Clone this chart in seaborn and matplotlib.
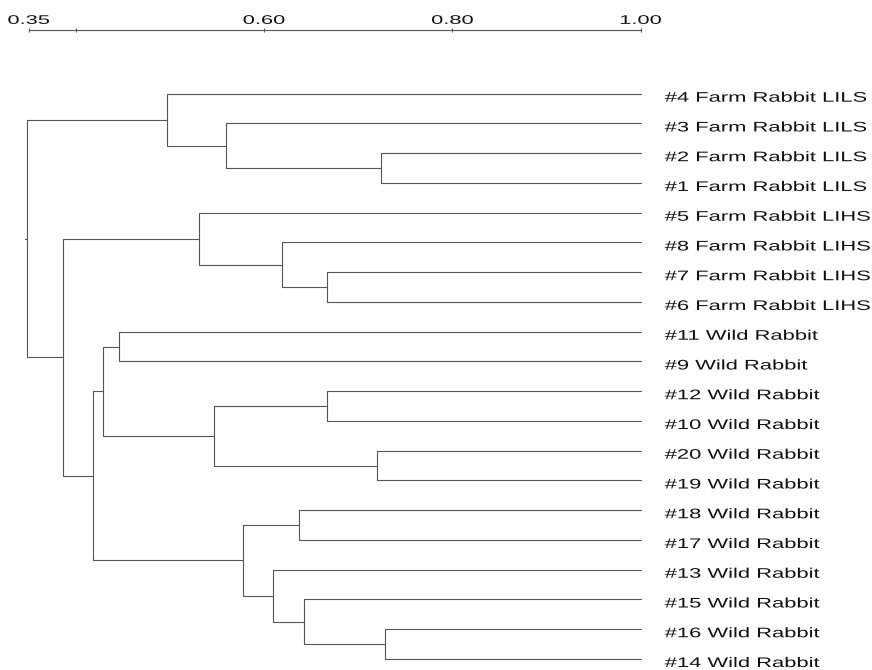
import matplotlib
matplotlib.use("Agg")
import matplotlib.pyplot as plt
import seaborn as sns
import pandas as pd
from matplotlib.patheffects import AbstractPathEffect
from matplotlib.transforms import Affine2D, offset_copy

# ---------------- data ----------------
leaves = [
    "#4 Farm Rabbit LILS", "#3 Farm Rabbit LILS", "#2 Farm Rabbit LILS",
    "#1 Farm Rabbit LILS", "#5 Farm Rabbit LIHS", "#8 Farm Rabbit LIHS",
    "#7 Farm Rabbit LIHS", "#6 Farm Rabbit LIHS", "#11 Wild Rabbit",
    "#9 Wild Rabbit", "#12 Wild Rabbit", "#10 Wild Rabbit", "#20 Wild Rabbit",
    "#19 Wild Rabbit", "#18 Wild Rabbit", "#17 Wild Rabbit", "#13 Wild Rabbit",
    "#15 Wild Rabbit", "#16 Wild Rabbit", "#14 Wild Rabbit",
]
# merges: node ids 0..19 are leaves, merge k gets id 20+k
merge_left = [2, 1, 0, 6, 5, 4, 8, 10, 12, 27, 26, 14, 18, 17, 16, 31, 30, 25, 22]
merge_right = [3, 20, 21, 7, 23, 24, 9, 11, 13, 28, 29, 15, 19, 32, 33, 34, 35, 36, 37]
merge_sim = [0.724, 0.560, 0.497, 0.667, 0.619, 0.531, 0.446, 0.667, 0.720,
             0.547, 0.429, 0.637, 0.728, 0.642, 0.610, 0.578, 0.418, 0.387, 0.348]
tick_values = [0.35, 0.40, 0.60, 0.80, 1.00]
tick_labels = ["0.35", "", "0.60", "0.80", "1.00"]


class HStretch(AbstractPathEffect):
    """Stretch text glyphs horizontally (text stays a real Text artist)."""
    def __init__(self, sx, anchor="left"):
        super().__init__()
        self.sx = sx
        self.anchor = anchor

    def draw_path(self, renderer, gc, tpath, affine, rgbFace=None):
        if self.anchor == "center":
            ext = tpath.get_extents()
            x0 = (ext.x0 + ext.x1) / 2
        else:
            x0 = 0.0
        t = Affine2D().translate(-x0, 0).scale(self.sx, 1).translate(x0, 0) + affine
        renderer.draw_path(gc, tpath, t, rgbFace)


# ---------------- layout of tree ----------------
n = len(leaves)
pos_x = {i: 1.0 for i in range(n)}
pos_y = {i: float(i) for i in range(n)}
rows = []
for k, (a, b, s) in enumerate(zip(merge_left, merge_right, merge_sim)):
    node = n + k
    pos_x[node] = s
    pos_y[node] = (pos_y[a] + pos_y[b]) / 2
    for px, py in [(pos_x[a], pos_y[a]), (s, pos_y[a]), (s, pos_y[b]), (pos_x[b], pos_y[b])]:
        rows.append({"x": px, "y": py, "seg": k})
root = n + len(merge_sim) - 1
rows.append({"x": pos_x[root], "y": pos_y[root], "seg": len(merge_sim)})
rows.append({"x": pos_x[root] - 0.002, "y": pos_y[root], "seg": len(merge_sim)})
df = pd.DataFrame(rows)

# ---------------- figure ----------------
sns.set_style("white")
plt.rcParams["font.family"] = ["Liberation Sans", "DejaVu Sans"]

W, H = 872, 670
fig = plt.figure(figsize=(W / 100, H / 100), dpi=100)
x_left_px, x_right_px = 28.6, 640.7
top_px = 30.0
ax = fig.add_axes([x_left_px / W, 0, (x_right_px - x_left_px) / W, 1 - top_px / H])

line_color = "#555555"
sns.lineplot(data=df, x="x", y="y", units="seg", estimator=None, sort=False,
             color=line_color, linewidth=0.8, ax=ax, legend=False)
for ln in ax.lines:
    ln.set_clip_on(False)

leaf0_px, leafN_px = 93.7, 659.0
step = (leafN_px - leaf0_px) / (n - 1)
ax.set_xlim(0.35, 1.00)
ax.set_ylim(n - 1 + (H - leafN_px) / step, -(leaf0_px - top_px) / step)

for side in ["left", "right", "bottom"]:
    ax.spines[side].set_visible(False)
ax.spines["top"].set_color(line_color)
ax.spines["top"].set_linewidth(0.8)

ax.xaxis.tick_top()
ax.set_xticks(tick_values)
ax.set_xticklabels(tick_labels)
ax.tick_params(axis="x", top=True, bottom=False, labeltop=True, labelbottom=False,
               direction="inout", length=3.5, width=0.8, color=line_color,
               pad=0.5, labelsize=9, labelcolor="#111111")
ax.set_yticks([])
ax.set_xlabel("")
ax.set_ylabel("")
for lbl in ax.get_xticklabels():
    lbl.set_path_effects([HStretch(1.75, "center")])

trans = offset_copy(ax.transData, fig=fig, x=24, y=-8, units="dots")
for i, name in enumerate(leaves):
    t = ax.text(1.0, i, name, transform=trans, ha="left", va="baseline",
                fontsize=10, color="#111111", clip_on=False)
    t.set_path_effects([HStretch(1.58, "left")])

fig.savefig("out.png", dpi=100)
